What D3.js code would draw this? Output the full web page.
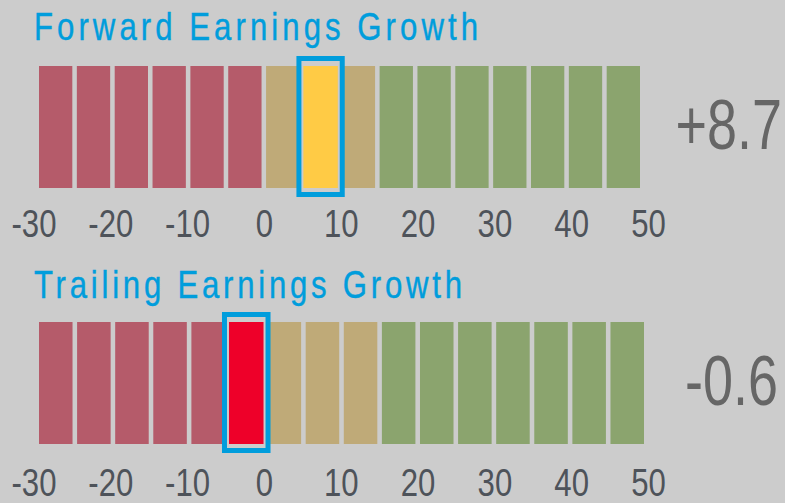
<!DOCTYPE html>
<html>
<head>
<meta charset="utf-8">
<script src="https://cdn.jsdelivr.net/npm/d3@7"></script>
<style>
  html, body { margin: 0; padding: 0; background: #cccccc; }
  svg { display: block; }
  .f { font-family: "Liberation Sans", Arial, sans-serif; }
</style>
</head>
<body>
<svg id="chart" width="785" height="503"></svg>
<script>
// ---- data ----
const binStarts = [-30, -25, -20, -15, -10, -5, 0, 5, 10, 15, 20, 25, 30, 35, 40, 45];
const binZones  = ["neg","neg","neg","neg","neg","neg","mid","mid","mid","pos","pos","pos","pos","pos","pos","pos"];
const gaugeTitles = ["Forward Earnings Growth", "Trailing Earnings Growth"];
const gaugeValues = [8.7, -0.6];
const gaugeLabels = ["+8.7", "-0.6"];
const tickValues  = [-30, -20, -10, 0, 10, 20, 30, 40, 50];
const binWidth = 5;

// ---- styles ----
const zoneColor = { neg: "#b55b6a", mid: "#bfaa78", pos: "#8ba46e" };
const hiColor   = { neg: "#ee0029", mid: "#ffcb45", pos: "#7fc241" };
const blue = "#009ddc";
const squeeze = 0.82;
const valueSqueeze = 0.77;

const svg = d3.select("#chart");
svg.append("rect").attr("width", 785).attr("height", 503).attr("fill", "#cccccc");

const rows = [
  { titleY: 40,  titleLen: 444, barTop: 66,  barBottom: 188, barRange: [39, 640], tickY: 237, valueY: 149, valueX: 782 },
  { titleY: 298, titleLen: 428, barTop: 322, barBottom: 444, barRange: [39, 644], tickY: 495.5, valueY: 405, valueX: 778 }
];

const xAxisScale = d3.scaleLinear().domain([-30, 50]).range([33.5, 648]);

rows.forEach((r, gi) => {
  const g = svg.append("g");
  const value = gaugeValues[gi];

  // title
  g.append("g").attr("transform", `translate(34,${r.titleY}) scale(${squeeze},1)`)
    .append("text").attr("class", "f")
    .attr("x", 0).attr("y", 0)
    .attr("font-size", 38).attr("fill", blue)
    .attr("stroke", blue).attr("stroke-width", 0.4)
    .attr("textLength", r.titleLen / squeeze).attr("lengthAdjust", "spacing")
    .text(gaugeTitles[gi]);

  const xb = d3.scaleBand().domain(binStarts).range(r.barRange).paddingInner(0.12).paddingOuter(0);
  const y = d3.scaleLinear().domain([0, 1]).range([r.barBottom, r.barTop]);

  g.selectAll("rect.bin").data(binStarts).join("rect")
    .attr("class", "bin")
    .attr("x", d => xb(d)).attr("width", xb.bandwidth())
    .attr("y", y(1)).attr("height", y(0) - y(1))
    .attr("fill", (d, i) => zoneColor[binZones[i]]);

  // highlighted bin
  const hiIndex = binStarts.findIndex(s => value >= s && value < s + binWidth);
  const hs = binStarts[hiIndex];
  const hz = binZones[hiIndex];
  g.append("rect")
    .attr("x", xb(hs) - 0.5).attr("width", xb.bandwidth() + 1)
    .attr("y", y(1)).attr("height", y(0) - y(1))
    .attr("fill", hiColor[hz]);
  g.append("rect")
    .attr("x", xb(hs) - 5).attr("width", xb.bandwidth() + 10)
    .attr("y", y(1) - 7.5).attr("height", y(0) - y(1) + 14)
    .attr("fill", "none").attr("stroke", blue).attr("stroke-width", 5);

  // axis labels
  const axis = d3.axisBottom(xAxisScale).tickValues(tickValues).tickSize(0).tickFormat(d => String(d));
  const ag = g.append("g").attr("transform", `translate(0,${r.tickY})`).call(axis);
  ag.select(".domain").remove();
  ag.attr("font-family", null).attr("font-size", null);
  ag.selectAll("text").attr("class", "f").attr("y", 0).attr("dy", 0)
    .attr("font-size", 38).attr("fill", "#4e535a")
    .attr("transform", `scale(${squeeze},1)`);

  // value
  g.append("g").attr("transform", `translate(${r.valueX},${r.valueY}) scale(${valueSqueeze},1)`)
    .append("text").attr("class", "f")
    .attr("x", 0).attr("y", 0)
    .attr("text-anchor", "end")
    .attr("font-size", 70).attr("fill", "#666666")
    .text(gaugeLabels[gi]);
});
</script>
</body>
</html>
